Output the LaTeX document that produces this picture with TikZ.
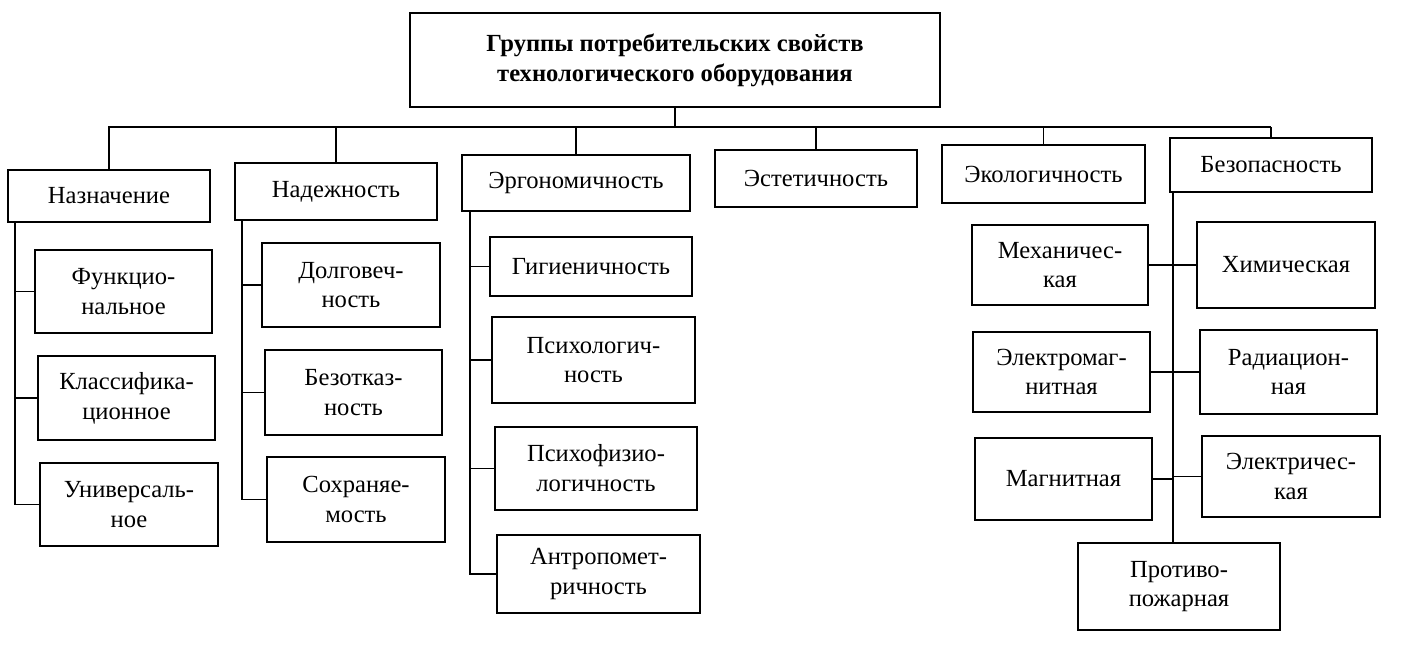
\documentclass[tikz,border=0pt]{standalone}
\usepackage{fontspec}
\setmainfont{Liberation Serif}
\usetikzlibrary{positioning}
\tikzset{box/.style={draw, line width=0.9pt, inner sep=0pt, align=center, font=\fontsize{14}{17}\selectfont}}
\newcommand\propbox[6]{\node[box, minimum width={(#4-#2)*0.02cm}, minimum height={(#5-#3)*0.02cm}] (#1) at ({(#2+#4)/2},{(#3+#5)/2}) {#6};}
\begin{document}
\begin{tikzpicture}[x=0.02cm, y=-0.02cm, line width=0.9pt]
	\useasboundingbox (0,0) rectangle (1403,670);
	% title
	\propbox{title}{410}{13}{940}{107}{\textbf{Группы потребительских свойств}\\\textbf{технологического оборудования}}
	% groups
	\propbox{naz}{8}{170}{210}{222}{Назначение}
	\propbox{nad}{235}{163}{437}{220}{Надежность}
	\propbox{erg}{462}{155}{690}{211}{Эргономичность}
	\propbox{est}{715}{150}{917}{207}{Эстетичность}
	\propbox{eko}{942}{145}{1145}{203}{Экологичность}
	\propbox{bez}{1170}{138}{1372}{192}{Безопасность}
	\coordinate (busL) at (108,127);
	\coordinate (busR) at (1271,127);
	\draw (busL) -- (busR);
	\draw (title.south) -- (title.south |- busL);
	\foreach \g in {naz,nad,erg,est,eko,bez}
		\draw (\g.north) -- (\g.north |- busL);
	% naznachenie
	\propbox{fun}{35}{250}{212}{333}{Функцио-\\нальное}
	\propbox{kla}{38}{356}{215}{440}{Классифика-\\ционное}
	\propbox{uni}{40}{463}{218}{546}{Универсаль-\\ное}
	\coordinate (nazL) at (15,222);
	\foreach \c in {fun,kla,uni}
		\draw (nazL) |- (\c.west);
	% nadezhnost
	\propbox{dol}{262}{243}{440}{327}{Долговеч-\\ность}
	\propbox{bot}{265}{350}{442}{435}{Безотказ-\\ность}
	\propbox{soh}{267}{457}{445}{542}{Сохраняе-\\мость}
	\coordinate (nadL) at (242,220);
	\foreach \c in {dol,bot,soh}
		\draw (nadL) |- (\c.west);
	% ergonomichnost
	\propbox{gig}{490}{237}{692}{296}{Гигиеничность}
	\propbox{psi}{492}{317}{695}{403}{Психологич-\\ность}
	\propbox{psf}{495}{427}{697}{510}{Психофизио-\\логичность}
	\propbox{ant}{497}{535}{700}{613}{Антропомет-\\ричность}
	\coordinate (ergL) at (470,211);
	\foreach \c in {gig,psi,psf,ant}
		\draw (ergL) |- (\c.west);
	% bezopasnost
	\propbox{meh}{972}{225}{1148}{305}{Механичес-\\кая}
	\propbox{elm}{973}{332}{1150}{412}{Электромаг-\\нитная}
	\propbox{mag}{975}{438}{1152}{520}{Магнитная}
	\propbox{him}{1197}{222}{1375}{308}{Химическая}
	\propbox{rad}{1200}{330}{1377}{414}{Радиацион-\\ная}
	\propbox{ele}{1202}{436}{1380}{517}{Электричес-\\кая}
	\propbox{pro}{1078}{543}{1280}{630}{Противо-\\пожарная}
	\coordinate (bezL) at (1173,192);
	\draw (bezL) -- (bezL |- pro.north);
	\draw (meh.east) -- (meh.east -| him.west);
	\draw (elm.east) -- (elm.east -| rad.west);
	\draw (mag.east) -- (mag.east -| bezL);
	\draw (ele.west) -- (ele.west -| bezL);
\end{tikzpicture}
\end{document}
